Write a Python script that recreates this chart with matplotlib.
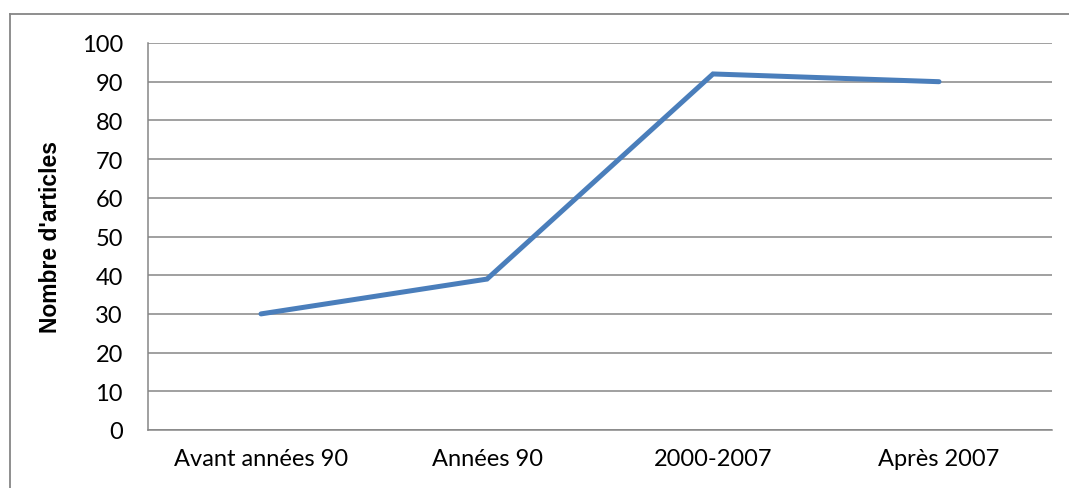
import matplotlib
matplotlib.use("Agg")
import matplotlib.pyplot as plt
from matplotlib.lines import Line2D

categories = ["Avant années 90", "Années 90", "2000-2007", "Après 2007"]
values = [30, 39, 92, 90]
yticks = [0, 10, 20, 30, 40, 50, 60, 70, 80, 90, 100]
ylabel = "Nombre d'articles"

plt.rcParams['font.family'] = ['Lato', 'DejaVu Sans']

W, H = 1069, 489
fig = plt.figure(figsize=(W / 100, H / 100), dpi=100)
ax = fig.add_axes([148 / W, 1 - 431 / H, (1052 - 148) / W, (431 - 44) / H])

x = list(range(len(categories)))
ax.plot(x, values, color="#4a7ebb", linewidth=3.6, solid_capstyle="round",
        solid_joinstyle="miter", zorder=3)

ax.set_xlim(-0.5, len(categories) - 0.5)
ax.set_ylim(0, 100)
ax.set_yticks(yticks)
ax.set_xticks(x)
ax.set_xticklabels(categories)
ax.tick_params(axis="both", length=0, labelsize=17, colors="black")
ax.tick_params(axis="y", pad=18)
ax.tick_params(axis="x", pad=13)
ax.yaxis.grid(True, color="#868686", linewidth=1.1)
ax.set_axisbelow(True)
for s in ["top", "right"]:
    ax.spines[s].set_visible(False)
for s in ["left", "bottom"]:
    ax.spines[s].set_color("#868686")
    ax.spines[s].set_linewidth(1.1)

ax.set_ylabel(ylabel, fontsize=16.5, fontweight="bold",
              family=["Liberation Sans", "DejaVu Sans"])
ax.yaxis.set_label_coords(-(148 - 62) / (1052 - 148), 0.5)

# outer chart border (left and top visible)
bx = 9.5 / W
by = 1 - 14.5 / H
fig.add_artist(Line2D([bx, bx], [-0.1, by], transform=fig.transFigure,
                      color="#868686", linewidth=1.3))
fig.add_artist(Line2D([bx, 1.1], [by, by], transform=fig.transFigure,
                      color="#868686", linewidth=1.3))

fig.savefig("out.png", dpi=100)
